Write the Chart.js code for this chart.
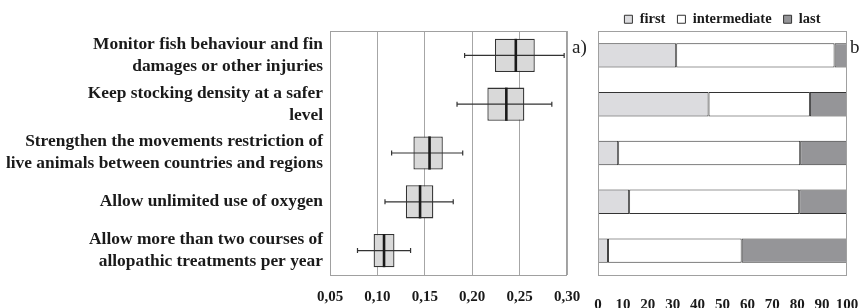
<!DOCTYPE html>
<html>
<head>
<meta charset="utf-8">
<script src="https://cdn.jsdelivr.net/npm/chart.js@4.4.1/dist/chart.umd.min.js"></script>
<style>
  body { margin: 0; background: #fff; width: 860px; height: 308px; overflow: hidden; position: relative; }
  #wrapA { position: absolute; left: 0; top: 0; width: 580px; height: 308px; }
  #wrapB { position: absolute; left: 584px; top: 0; width: 276px; height: 308px; }
  .tag { position: absolute; font-family: "Liberation Serif", serif; font-size: 19px; color: #222; }
</style>
</head>
<body>
<div id="wrapA"><canvas id="boxChart"></canvas></div>
<div id="wrapB"><canvas id="barChart"></canvas></div>
<div class="tag" style="left:572px; top:36px;">a)</div>
<div class="tag" style="left:850px; top:36px;">b)</div>
<script>
// categorias (de cima para baixo)
const categorias = [
    ['Monitor fish behaviour and fin', 'damages or other injuries'],
    ['Keep stocking density at a safer', 'level'],
    ['Strengthen the movements restriction of', 'live animals between countries and regions'],
    'Allow unlimited use of oxygen',
    ['Allow more than two courses of', 'allopathic treatments per year']
];

// boxplot (a)
const whiskerMin = [0.192, 0.184, 0.115, 0.108, 0.079];
const quartil1   = [0.224, 0.216, 0.138, 0.130, 0.096];
const mediana    = [0.246, 0.236, 0.155, 0.145, 0.107];
const quartil3   = [0.266, 0.255, 0.169, 0.159, 0.118];
const whiskerMax = [0.297, 0.284, 0.190, 0.180, 0.135];
const ticksA = ['0,05', '0,10', '0,15', '0,20', '0,25', '0,30'];

// barras empilhadas (b)
const first        = [31.4, 44.4, 8.1, 12.5, 4.0];
const intermediate = [63.6, 40.7, 73.1, 68.3, 53.7];
const last         = [5.0, 14.9, 18.8, 19.2, 42.3];

const serif = '"Liberation Serif", "Times New Roman", serif';

const framePlugin = {
    id: 'frame',
    afterDraw(chart) {
        const a = chart.chartArea;
        const ctx = chart.ctx;
        ctx.save();
        ctx.strokeStyle = '#a0a0a0';
        ctx.lineWidth = 1;
        ctx.strokeRect(Math.round(a.left) + 0.5, Math.round(a.top) + 0.5,
            Math.round(a.right - a.left) - 1, Math.round(a.bottom - a.top));
        ctx.restore();
    }
};

// desenha bigodes e mediana usando as escalas do gráfico
const boxPlugin = {
    id: 'boxExtras',
    afterDatasetsDraw(chart) {
        const ctx = chart.ctx;
        const xs = chart.scales.x;
        const meta = chart.getDatasetMeta(0);
        ctx.save();
        meta.data.forEach((bar, i) => {
            const y = bar.y;
            const h = bar.height;
            const x0 = xs.getPixelForValue(whiskerMin[i]);
            const x1 = xs.getPixelForValue(whiskerMax[i]);
            const xm = xs.getPixelForValue(mediana[i]);
            ctx.strokeStyle = '#333';
            ctx.lineWidth = 1.2;
            ctx.beginPath();
            ctx.moveTo(x0, y); ctx.lineTo(x1, y);
            ctx.moveTo(x0, y - 2.5); ctx.lineTo(x0, y + 2.5);
            ctx.moveTo(x1, y - 2.5); ctx.lineTo(x1, y + 2.5);
            ctx.stroke();
            ctx.strokeStyle = '#1a1a1a';
            ctx.lineWidth = 2.6;
            ctx.beginPath();
            ctx.moveTo(xm, y - h / 2); ctx.lineTo(xm, y + h / 2);
            ctx.stroke();
        });
        ctx.restore();
    }
};

// eixo x com altura fixa e sem folga extra nas pontas
const fixX = s => {
    s.height = 33;
    s.paddingLeft = 0;
    s.paddingRight = 0;
};

new Chart(document.getElementById('boxChart'), {
    type: 'bar',
    data: {
        labels: categorias,
        datasets: [{
            data: quartil1.map((q, i) => [q, quartil3[i]]),
            backgroundColor: '#d9d9d9',
            borderColor: '#333',
            borderWidth: 1.3,
            borderSkipped: false,
            categoryPercentage: 1,
            barPercentage: 0.68
        }]
    },
    options: {
        indexAxis: 'y',
        responsive: true,
        maintainAspectRatio: false,
        animation: false,
        layout: { padding: { top: 31, right: 13, left: 0, bottom: 0 } },
        plugins: { legend: { display: false }, tooltip: { enabled: false } },
        scales: {
            y: {
                afterFit: s => { s.width = 330; },
                grid: { display: false, drawTicks: false },
                border: { display: false },
                ticks: {
                    color: '#1a1a1a',
                    padding: 7,
                    font: { family: serif, size: 17.4, weight: 'bold', lineHeight: '22px' }
                }
            },
            x: {
                min: 0.05,
                max: 0.30,
                afterFit: fixX,
                grid: { color: '#a6a6a6', drawTicks: false },
                border: { display: false },
                ticks: {
                    stepSize: 0.05,
                    padding: 13,
                    maxRotation: 0,
                    autoSkip: false,
                    color: '#1a1a1a',
                    font: { family: serif, size: 15, weight: 'bold' },
                    callback: (v, i) => ticksA[i]
                }
            }
        }
    },
    plugins: [framePlugin, boxPlugin]
});

const barOpts = { borderColor: '#333', borderWidth: 1, borderSkipped: false, categoryPercentage: 1, barPercentage: 0.5 };

new Chart(document.getElementById('barChart'), {
    type: 'bar',
    data: {
        labels: categorias,
        datasets: [
            { label: 'first', data: first, backgroundColor: '#dcdcdf', ...barOpts },
            { label: 'intermediate', data: intermediate, backgroundColor: '#ffffff', ...barOpts },
            { label: 'last', data: last, backgroundColor: '#959598', ...barOpts }
        ]
    },
    options: {
        indexAxis: 'y',
        responsive: true,
        maintainAspectRatio: false,
        animation: false,
        layout: { padding: { top: 0, right: 13, left: 14, bottom: 0 } },
        plugins: {
            tooltip: { enabled: false },
            legend: {
                position: 'top',
                maxHeight: 31,
                labels: {
                    boxWidth: 8,
                    boxHeight: 8,
                    padding: 12,
                    color: '#1a1a1a',
                    font: { family: serif, size: 14.5, weight: 'bold' }
                }
            }
        },
        scales: {
            y: { display: false, stacked: true },
            x: {
                stacked: true,
                min: 0,
                max: 100,
                afterFit: fixX,
                grid: { display: false },
                border: { display: false },
                ticks: {
                    stepSize: 10,
                    padding: 13,
                    maxRotation: 0,
                    autoSkip: false,
                    color: '#1a1a1a',
                    font: { family: serif, size: 15, weight: 'bold' }
                }
            }
        }
    },
    plugins: [framePlugin]
});
</script>
</body>
</html>
